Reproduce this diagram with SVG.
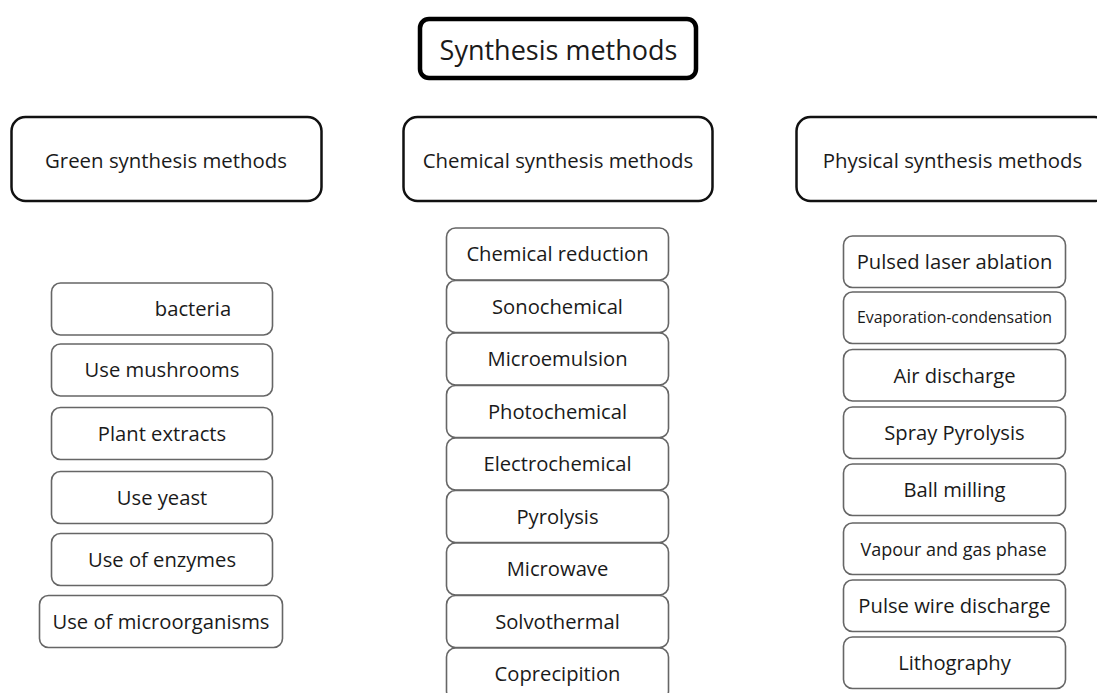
<svg xmlns="http://www.w3.org/2000/svg" width="1097" height="693" viewBox="0 0 1097 693">
<style>
.t{font-family:"Open Sans","Liberation Sans",sans-serif;fill:#1a1a1a;text-anchor:middle}
.title rect{fill:#fff;stroke:#000;stroke-width:4.5}
.hdr rect{fill:#fff;stroke:#111;stroke-width:2.5}
.item rect{fill:#fff;stroke:#666;stroke-width:1.6}
.ti{font-size:27px}
.th{font-size:20.4px}
.tn{font-size:20.2px}
.tm{font-size:18px}
.ts{font-size:15.9px}
</style>
<rect width="1097" height="693" fill="#fff"/>
<g id="connectors"/>
<g id="title" class="title"><rect x="420" y="19" width="276" height="59" rx="9"/><text class="t ti" x="558.5" y="60">Synthesis methods</text></g>

<g id="green" class="hdr"><rect x="11.5" y="117" width="310" height="84" rx="14"/><text class="t th" x="166" y="167.5">Green synthesis methods</text></g>
<g id="chemical" class="hdr"><rect x="403.5" y="117" width="309" height="84" rx="14"/><text class="t th" x="558" y="167.5">Chemical synthesis methods</text></g>
<g id="physical" class="hdr"><rect x="796.5" y="117" width="312" height="84" rx="14"/><text class="t th" x="952.5" y="167.5">Physical synthesis methods</text></g>

<g id="g1" class="item"><rect x="51.5" y="283" width="221" height="52" rx="9"/><text class="t tn" x="193" y="316">bacteria</text></g>
<g id="g2" class="item"><rect x="51.5" y="344" width="221" height="52" rx="9"/><text class="t tn" x="162" y="377">Use mushrooms</text></g>
<g id="g3" class="item"><rect x="51.5" y="407.5" width="221" height="52" rx="9"/><text class="t tn" x="162" y="440.5">Plant extracts</text></g>
<g id="g4" class="item"><rect x="51.5" y="471.5" width="221" height="52" rx="9"/><text class="t tn" x="162" y="504.5">Use yeast</text></g>
<g id="g5" class="item"><rect x="51.5" y="533.5" width="221" height="52" rx="9"/><text class="t tn" x="162" y="566.5">Use of enzymes</text></g>
<g id="g6" class="item"><rect x="39.5" y="595.5" width="243" height="52" rx="9"/><text class="t tn" x="161" y="628.5">Use of microorganisms</text></g>

<g id="c1" class="item"><rect x="446.5" y="228" width="222" height="52" rx="9"/><text class="t tn" x="557.5" y="261">Chemical reduction</text></g>
<g id="c2" class="item"><rect x="446.5" y="280.5" width="222" height="52" rx="9"/><text class="t tn" x="557.5" y="313.5">Sonochemical</text></g>
<g id="c3" class="item"><rect x="446.5" y="333" width="222" height="52" rx="9"/><text class="t tn" x="557.5" y="366">Microemulsion</text></g>
<g id="c4" class="item"><rect x="446.5" y="385.5" width="222" height="52" rx="9"/><text class="t tn" x="557.5" y="418.5">Photochemical</text></g>
<g id="c5" class="item"><rect x="446.5" y="438" width="222" height="52" rx="9"/><text class="t tn" x="557.5" y="471">Electrochemical</text></g>
<g id="c6" class="item"><rect x="446.5" y="490.5" width="222" height="52" rx="9"/><text class="t tn" x="557.5" y="523.5">Pyrolysis</text></g>
<g id="c7" class="item"><rect x="446.5" y="543" width="222" height="52" rx="9"/><text class="t tn" x="557.5" y="576">Microwave</text></g>
<g id="c8" class="item"><rect x="446.5" y="595.5" width="222" height="52" rx="9"/><text class="t tn" x="557.5" y="628.5">Solvothermal</text></g>
<g id="c9" class="item"><rect x="446.5" y="648" width="222" height="52" rx="9"/><text class="t tn" x="557.5" y="681">Coprecipition</text></g>

<g id="p1" class="item"><rect x="843.5" y="236" width="222" height="51.5" rx="9"/><text class="t tn" x="954.5" y="269">Pulsed laser ablation</text></g>
<g id="p2" class="item"><rect x="843.5" y="292" width="222" height="51.5" rx="9"/><text class="t ts" x="954.5" y="323">Evaporation-condensation</text></g>
<g id="p3" class="item"><rect x="843.5" y="349.5" width="222" height="51.5" rx="9"/><text class="t tn" x="954.5" y="382.5">Air discharge</text></g>
<g id="p4" class="item"><rect x="843.5" y="407" width="222" height="51.5" rx="9"/><text class="t tn" x="954.5" y="440">Spray Pyrolysis</text></g>
<g id="p5" class="item"><rect x="843.5" y="464" width="222" height="51.5" rx="9"/><text class="t tn" x="954.5" y="497">Ball milling</text></g>
<g id="p6" class="item"><rect x="843.5" y="523" width="222" height="51.5" rx="9"/><text class="t tm" x="953.5" y="555.5">Vapour and gas phase</text></g>
<g id="p7" class="item"><rect x="843.5" y="580" width="222" height="51.5" rx="9"/><text class="t tn" x="954.5" y="613">Pulse wire discharge</text></g>
<g id="p8" class="item"><rect x="843.5" y="637" width="222" height="51.5" rx="9"/><text class="t tn" x="954.5" y="670">Lithography</text></g>
</svg>
